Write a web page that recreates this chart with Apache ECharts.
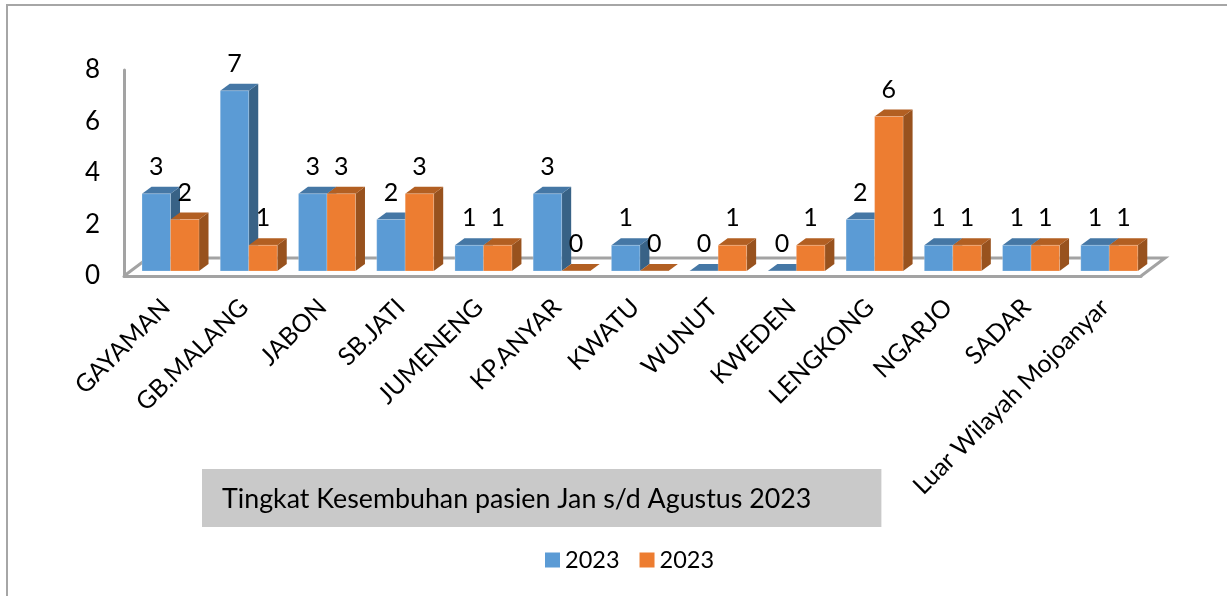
<!DOCTYPE html>
<html>
<head>
<meta charset="utf-8">
<script src="https://cdn.jsdelivr.net/npm/echarts@6/dist/echarts.min.js"></script>
<style>
html, body { margin: 0; padding: 0; background: #fff; }
#chart { width: 1227px; height: 596px; }
</style>
</head>
<body>
<div id="chart"></div>
<script>
var categories = ['GAYAMAN', 'GB.MALANG', 'JABON', 'SB.JATI', 'JUMENENG', 'KP.ANYAR', 'KWATU',
    'WUNUT', 'KWEDEN', 'LENGKONG', 'NGARJO', 'SADAR', 'Luar Wilayah Mojoanyar'];
var blueValues = [3, 7, 3, 2, 1, 3, 1, 0, 0, 2, 1, 1, 1];
var orangeValues = [2, 1, 3, 3, 1, 0, 0, 1, 1, 6, 1, 1, 1];
var yTicks = [0, 2, 4, 6, 8];
var titleText = 'Tingkat Kesembuhan pasien Jan s/d Agustus 2023';

var FONT = 'Lato';
var GREY = '#a3a3a3';
// front of the 3d box, bars stand a bit behind it
var SHIFT_X = 7.4, SHIFT_Y = -5;
var DEPTH_X = 9.5, DEPTH_Y = -7;
var BAR_WIDTH = 28.5;

function bar3d(values, seriesIndex, front, top, side) {
    return function (params, api) {
        var i = api.value(0);
        var base = api.coord([i, 0]);
        var head = api.coord([i, api.value(1)]);
        var x0 = base[0] + SHIFT_X - BAR_WIDTH + seriesIndex * BAR_WIDTH;
        var x1 = x0 + BAR_WIDTH;
        var y0 = base[1] + SHIFT_Y;
        var y1 = head[1] + SHIFT_Y;
        var edge = {stroke: 'rgba(255,255,255,0.35)', lineWidth: 0.6};
        return {
            type: 'group',
            children: [
                {
                    type: 'polygon',
                    shape: {points: [[x1, y0], [x1 + DEPTH_X, y0 + DEPTH_Y], [x1 + DEPTH_X, y1 + DEPTH_Y], [x1, y1]]},
                    style: {fill: side}
                },
                {
                    type: 'polygon',
                    shape: {points: [[x0, y1], [x1, y1], [x1 + DEPTH_X, y1 + DEPTH_Y], [x0 + DEPTH_X, y1 + DEPTH_Y]]},
                    style: {fill: top}
                },
                {
                    type: 'rect',
                    shape: {x: x0, y: y1, width: BAR_WIDTH, height: y0 - y1},
                    style: Object.assign({fill: front}, edge)
                },
                {
                    type: 'text',
                    z2: 100,
                    style: {
                        x: x0 + BAR_WIDTH / 2,
                        y: y1 - 27,
                        text: String(api.value(1)),
                        fill: '#000',
                        font: '25px ' + FONT,
                        align: 'center',
                        verticalAlign: 'middle'
                    }
                }
            ]
        };
    };
}

function seriesData(values) {
    return values.map(function (v, i) { return [i, v]; });
}

var chart = echarts.init(document.getElementById('chart'));
chart.setOption({
    animation: false,
    backgroundColor: '#fff',
    title: {
        text: titleText,
        left: 202,
        top: 469,
        backgroundColor: '#c9c9c9',
        padding: [16, 70, 14, 20],
        textStyle: {fontFamily: FONT, fontSize: 26.8, fontWeight: 'normal', color: '#000', lineHeight: 28}
    },
    legend: {
        data: ['2023', '2023 '],
        left: 545,
        top: 548,
        padding: 0,
        itemWidth: 15,
        itemHeight: 15,
        itemGap: 20,
        icon: 'rect',
        textStyle: {fontFamily: FONT, fontSize: 23.5, color: '#000'}
    },
    grid: {left: 124, top: 70, width: 1017, height: 206},
    xAxis: {
        type: 'category',
        data: categories,
        axisTick: {show: false},
        axisLine: {lineStyle: {color: GREY, width: 3}},
        axisLabel: {rotate: 45, interval: 0, fontFamily: FONT, fontSize: 24.8, color: '#000', margin: 30, padding: [0, -4, 0, 0]}
    },
    yAxis: {
        type: 'value',
        min: yTicks[0],
        max: yTicks[yTicks.length - 1],
        interval: 2,
        splitLine: {show: false},
        axisTick: {show: false},
        axisLine: {show: true, lineStyle: {color: GREY, width: 3}},
        axisLabel: {fontFamily: FONT, fontSize: 26, color: '#000', margin: 24, padding: [9, 0, 0, 0]}
    },
    graphic: [
        {
            type: 'polyline',
            z: 0,
            shape: {points: [[124, 276], [148, 258], [1165, 258], [1141, 276]]},
            style: {stroke: GREY, lineWidth: 3, fill: null}
        },
        {
            type: 'polyline',
            z: 0,
            shape: {points: [[7, 596], [7, 5], [1227, 5]]},
            style: {stroke: '#a6a6a6', lineWidth: 2, fill: null}
        }
    ],
    series: [
        {
            name: '2023',
            type: 'custom',
            z: 3,
            itemStyle: {color: '#5b9bd5'},
            renderItem: bar3d(blueValues, 0, '#5b9bd5', '#4577a5', '#386286'),
            data: seriesData(blueValues)
        },
        {
            name: '2023 ',
            type: 'custom',
            z: 4,
            itemStyle: {color: '#ed7d31'},
            renderItem: bar3d(orangeValues, 1, '#ed7d31', '#b25f22', '#98521e'),
            data: seriesData(orangeValues)
        }
    ]
});
</script>
</body>
</html>
